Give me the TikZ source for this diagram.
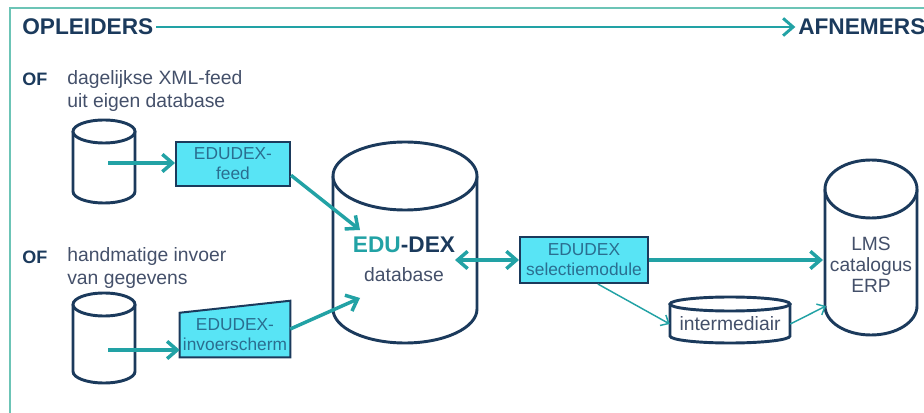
\documentclass[tikz,border=0pt]{standalone}
\usepackage{fontspec}
\setmainfont{Liberation Sans}
\usetikzlibrary{calc,arrows.meta}
\definecolor{navy}{HTML}{1B3A5C}
\definecolor{eduteal}{HTML}{22A2A5}
\definecolor{framegreen}{HTML}{6CC4B6}
\definecolor{boxcyan}{HTML}{58E4F5}
\definecolor{boxtext}{HTML}{2A6E90}
\definecolor{labelgray}{HTML}{44506A}
\def\px{0.75pt}
\def\dbcylinder[#1](#2)(#3:#4:#5){\draw[#1] ($(#2)+(-#3,-#4)$) -- ($(#2)+(-#3,#4)$) arc[start angle=180, end angle=0, x radius=#3, y radius=#5] -- ($(#2)+(#3,-#4)$);
	\draw[#1] ($(#2)+(0,-#4)$) ellipse[x radius=#3, y radius=#5];}

\begin{document}
\begin{tikzpicture}[x=0.75pt, y=-0.75pt,
		headtext/.style={font=\fontsize{17}{20}\selectfont\bfseries, text=navy, inner sep=0},
		lbl/.style={font=\fontsize{14.5}{17.25}\selectfont, text=labelgray, align=left, inner sep=0},
		boxtxt/.style={font=\fontsize{13}{15}\selectfont, text=boxtext, align=center, inner sep=0},
		box/.style={boxtxt, draw=navy, line width=1.5pt, fill=boxcyan},
		dbline/.style={draw=navy, line width=2.2pt, fill=white},
		flow/.style={draw=eduteal, line width=2.6pt, -{Straight Barb[length=7.5pt, width=13pt]}},
		thinflow/.style={draw=eduteal, line width=1.1pt, -{Straight Barb[length=5pt, width=9pt]}}]
		%%%%% START %%%%%
		
		\useasboundingbox (0,0) rectangle (924,413);
		\draw[framegreen, line width=1.6pt] (10,413) -- (10,8) -- (924,8);
		
		\node[headtext, anchor=west] (opl) at (22,27) {OPLEIDERS};
		\node[headtext, anchor=west] (afn) at (798,27) {AFNEMERS};
		\draw[flow, line width=2.2pt, shorten <=2pt, shorten >=2pt] (opl.east) -- (afn.west);
		
		\node[font=\fontsize{13.5}{15}\selectfont\bfseries, text=navy, anchor=west, inner sep=0] (of1) at (22,79) {OF};
		\node[lbl, anchor=west] (feedtxt) at (67,91.5) {dagelijkse XML-feed\\uit eigen database};
		\node[font=\fontsize{13.5}{15}\selectfont\bfseries, text=navy, anchor=west, inner sep=0] (of2) at (22,257) {OF};
		\node[lbl, anchor=west] (invtxt) at (67,268.5) {handmatige invoer\\van gegevens};
		
		\coordinate (src1) at (104,161.5);
		\coordinate (src2) at (104,338);
		\coordinate (db) at (405,242.5);
		\coordinate (intercyl) at (730,320);
		\coordinate (lms) at (871,247.5);
		\dbcylinder[dbline](src1)(31:30:11.5);
		\dbcylinder[dbline](src2)(31:33.5:11.5);
		\dbcylinder[dbline](db)(72:66.5:34);
		\dbcylinder[dbline](intercyl)(60:16:7);
		\dbcylinder[dbline](lms)(46:58.5:29);
		
		\node[font=\fontsize{17}{20}\selectfont\bfseries, inner sep=0] (dbname) at (404,245) {\textcolor{eduteal}{EDU}\textcolor{navy}{-DEX}};
		\node[lbl, align=center] (dbsub) at (404,275) {database};
		\node[lbl, minimum width=120*\px, minimum height=30*\px] (inter) at (730,324) {intermediair};
		\node[lbl, align=center, font=\fontsize{14.4}{15.75}\selectfont] (lmstxt) at (871,265) {LMS\\catalogus\\ERP};
		
		\node[box, minimum width=114*\px, minimum height=44*\px] (feed) at (233,164) {EDUDEX-\\feed};
		\node[inner sep=0, minimum width=110*\px, minimum height=56*\px] (inv) at (235,329) {};
		\draw[navy, line width=1.5pt, fill=boxcyan] (inv.south west) -- (inv.south east) -- (inv.north east) -- ($(inv.north west)+(0,12)$) -- cycle;
		\node[boxtxt] (invlabel) at ($(inv.center)+(0,6)$) {EDUDEX-\\invoerscherm};
		\node[box, minimum width=128*\px, minimum height=46*\px] (sel) at (584,260) {EDUDEX\\selectiemodule};
		
		\coordinate (src1out) at (108,163);
		\coordinate (src2out) at (108,350);
		\coordinate (dbin1) at (360,230);
		\coordinate (dbin2) at (360,298);
		\coordinate (dbout) at (455,260);
		\coordinate (lmsin1) at (823,260);
		\coordinate (lmsin2) at (826,306);
		
		\draw[flow] (src1out) -- (src1out -| feed.west);
		\draw[flow] (src2out) -- (src2out -| inv.west);
		\draw[flow] (feed.-11) -- (dbin1);
		\draw[flow] (inv.east) -- (dbin2);
		\draw[flow, {Straight Barb[length=7.5pt, width=13pt]}-{Straight Barb[length=7.5pt, width=13pt]}] (dbout) -- (sel.west);
		\draw[flow] (sel.east) -- (lmsin1);
		\draw[thinflow] (sel.-60) -- (inter.west);
		\draw[thinflow] (inter.east) -- (lmsin2);
		
		%%%%% END %%%%%
\end{tikzpicture}
\end{document}
